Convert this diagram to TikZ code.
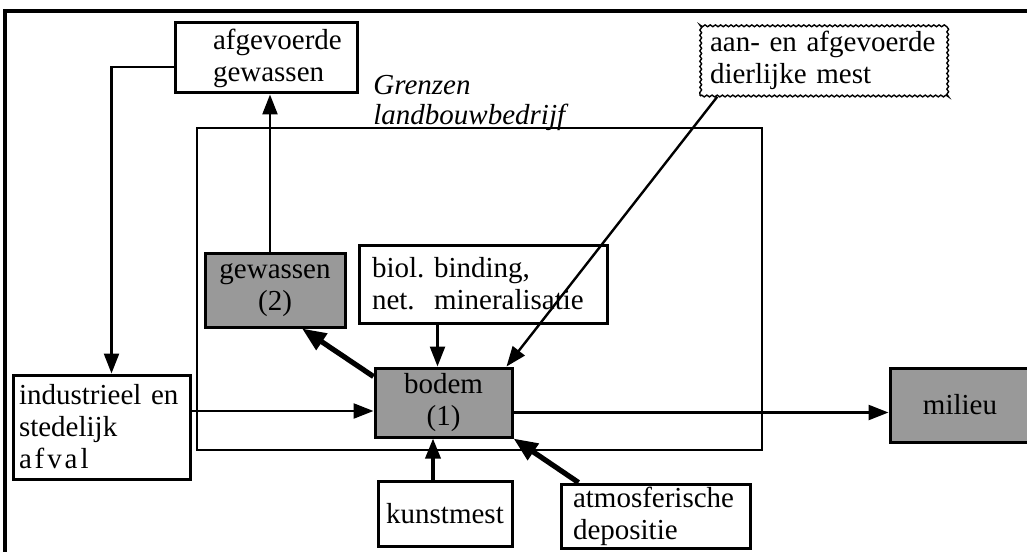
\documentclass[tikz,border=0pt]{standalone}
\usepackage{fontspec}
\setmainfont{Liberation Serif}
\usetikzlibrary{arrows.meta,decorations.pathmorphing}

\tikzset{
  blok/.style={draw, line width=1.5pt, inner xsep=3pt, inner ysep=0pt},
  grijs/.style={blok, fill=black!40, align=center},
  links/.style={blok, align=left},
  golfrand/.style={draw, line width=0.7pt, decorate,
    decoration={snake, amplitude=0.45pt, segment length=2.6pt}},
  pijl/.style={-{Triangle[length=10pt,width=7.5pt]}, line width=1.2pt},
  dikpijl/.style={-{Triangle[length=12pt,width=9.5pt]}, line width=2.6pt},
}

\begin{document}
\frenchspacing
\begin{tikzpicture}[x=0.5pt, y=-0.5pt, font=\fontsize{14.5}{16}\selectfont]
  \useasboundingbox (0,0) rectangle (1027,551);
  % kader, loopt rechts en onder uit beeld
  \draw[line width=1.7pt] (5,580) -- (5,11) -- (1050,11);
  % grenzen landbouwbedrijf
  \node (bedrijf) [draw, line width=1.2pt, inner sep=0pt,
    minimum width=282.5pt, minimum height=161pt] at (479.5,289) {};
  \node (grens) [anchor=north west, inner sep=0pt, align=left,
    font=\fontsize{14.5}{15}\selectfont\itshape] at (373,75)
    {Grenzen\\landbouwbedrijf};

  % vakken
  \node (afg) [links, text width=85pt, minimum height=35pt] at (266,58)
    {\hspace*{16pt}afgevoerde\\\hspace*{16pt}gewassen};
  \node (mest) [golfrand, inner xsep=5pt, inner ysep=0pt, align=left,
    text width=113.5pt, minimum height=35.5pt] at (823.5,60.5)
    {aan- en afgevoerde\\dierlijke mest};
  \node (gew) [grijs, minimum width=70pt, minimum height=37pt] at (275,290)
    {gewassen\\(2)};
  \node (biol) [links, inner xsep=6.5pt, text width=111pt,
    minimum height=39pt] at (483,284) {biol. binding,\\net.\ \ mineralisatie};
  \node (bodem) [grijs, minimum width=68.5pt, minimum height=34.5pt]
    at (443.5,402.5) {bodem\\(1)};
  \node (ind) [links, text width=82.5pt, minimum height=52pt] at (101.5,427)
    {industrieel en\\stedelijk\\{\addfontfeature{LetterSpace=10}afval}};
  \node (kunst) [blok, minimum width=67pt, minimum height=32.5pt]
    at (445,513.5) {kunstmest};
  \node (atmos) [links, inner xsep=6pt, text width=82.5pt,
    minimum height=32pt] at (655.5,516) {atmosferische\\depositie};
  \node (milieu) [grijs, minimum width=70pt, minimum height=37pt]
    at (960,405) {milieu};

  % stromen
  \draw[pijl] ([xshift=-2.5pt]gew.north) -- ([xshift=-2.5pt]gew.north |- afg.south);
  \draw[pijl] ([yshift=-4.5pt]afg.west) -| ([xshift=5pt]ind.north);
  \draw[pijl] ([yshift=8pt]ind.east) -- ([yshift=8pt]ind.east -| bodem.west);
  \draw[dikpijl] ([yshift=-5pt]bodem.north west) -- ([xshift=13.5pt]gew.south);
  \draw[pijl] ([xshift=-3pt]bodem.north |- biol.south) -- ([xshift=-3pt]bodem.north);
  \draw[pijl] ([xshift=9pt]mest.south west) -- ([xshift=-3.5pt]bodem.north east);
  \draw[pijl] ([yshift=-5pt]bodem.east) -- ([yshift=-5pt]bodem.east -| milieu.west);
  \draw[pijl, line width=1.8pt] ([xshift=-6pt]kunst.north)
    -- ([xshift=-6pt]kunst.north |- bodem.south);
  \draw[dikpijl] ([xshift=9.5pt]atmos.north west) -- (bodem.south east);
\end{tikzpicture}
\end{document}
